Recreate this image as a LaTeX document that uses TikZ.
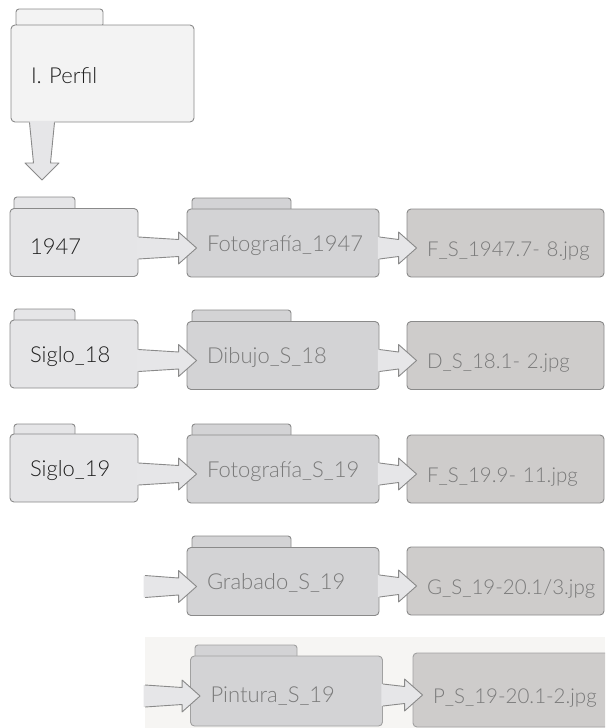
\documentclass[tikz,border=0pt]{standalone}
\usepackage{fontspec}
\setmainfont{Lato Light}
\usepackage{xcolor}
\usepackage{tikz}
\usetikzlibrary{
    calc
}

\definecolor{linegray}{HTML}{8A8A8A}
\definecolor{perfilfill}{HTML}{F3F3F3}
\definecolor{leftfill}{HTML}{E5E5E7}
\definecolor{midfill}{HTML}{D3D3D5}
\definecolor{rightfill}{HTML}{CECCCB}
\definecolor{arrowfill}{HTML}{E6E6E8}
\definecolor{textgray}{HTML}{7A7A7A}
\definecolor{bgfive}{HTML}{F6F5F3}

% fat arrow from #1 (a node anchor or coordinate) to node #2
\newcommand{\fatarrow}[2]{%
    \fill[arrowfill] let \p1=(#1), \p2=($(#2.west)+(10,5)$) in
        ({\x1-1.5pt},{\y2-11pt}) -- ({\x2-18pt},{\y2-8.5pt}) -- ({\x2-18pt},{\y2-16pt}) -- (\x2,\y2)
        -- ({\x2-18pt},{\y2+16pt}) -- ({\x2-18pt},{\y2+8.5pt}) -- ({\x1-1.5pt},{\y2+11pt}) -- cycle;
    \draw[linegray, line width=0.9pt, line join=round] let \p1=(#1), \p2=($(#2.west)+(10,5)$) in
        (\x1,{\y2-11pt}) -- ({\x2-18pt},{\y2-8.5pt}) -- ({\x2-18pt},{\y2-16pt}) -- (\x2,\y2)
        -- ({\x2-18pt},{\y2+16pt}) -- ({\x2-18pt},{\y2+8.5pt}) -- (\x1,{\y2+11pt});
}

\begin{document}
\begin{tikzpicture}[x=1pt,y=-1pt,line width=0.9pt]
    \tikzstyle{every node}=[font=\fontsize{22}{26}\selectfont]
    \tikzstyle{folder}=[draw=linegray, rounded corners=4pt, minimum height=68pt, inner xsep=20pt, inner ysep=0pt, align=left,
        text height=16pt, text depth=0pt, execute at begin node=\hbox\bgroup, execute at end node=\egroup]
    \tikzstyle{tab}=[draw=linegray, rounded corners=3pt, minimum height=18pt, inner sep=0pt]
    \tikzstyle{leftfolder}=[folder, fill=leftfill, text=black!88, text width=88pt]
    \tikzstyle{midfolder}=[folder, fill=midfill, text=textgray, text width=152pt]
    \tikzstyle{filebox}=[folder, fill=rightfill, text=textgray, text width=157pt, text height=26pt,
        font=\fontsize{20.5}{24}\selectfont]

    \useasboundingbox (0,0) rectangle (605,728);
    \clip (0,0) rectangle (605,728);
    \fill[bgfive] (145,637) rectangle (605,728);

    % profile
    \node[tab, fill=perfilfill, minimum width=87pt] (perfiltab) at (59.5,18) {};
    \node[folder, fill=perfilfill, text=black!88, minimum height=97pt, text width=143pt, text height=20pt] (perfil) at (102.5,73.5) {I. Perfil};
    \coordinate (perfiltip) at (42,180);

    % tabs
    \node[tab, fill=leftfill, minimum width=61pt] (y1947tab) at (44.5,206) {};
    \node[tab, fill=leftfill, minimum width=61pt] (s18tab) at (44.5,318) {};
    \node[tab, fill=leftfill, minimum width=61pt] (s19tab) at (44.5,433) {};
    \node[tab, fill=midfill, minimum width=99pt] (fot1947tab) at (241.5,207) {};
    \node[tab, fill=midfill, minimum width=99pt] (dib18tab) at (241.5,319) {};
    \node[tab, fill=midfill, minimum width=99pt] (fot19tab) at (241.5,433) {};
    \node[tab, fill=midfill, minimum width=99pt] (grab19tab) at (241.5,545) {};
    \node[tab, fill=midfill, draw=linegray!80, minimum width=102pt] (pint19tab) at (246,654) {};

    % folders
    \node[leftfolder, text height=24pt] (y1947) at (74,242.5) {1947};
    \node[leftfolder] (s18) at (74,354) {Siglo\_18};
    \node[leftfolder] (s19) at (74,468) {Siglo\_19};
    \node[midfolder] (fot1947) at (283,243) {Fotograf\'ia\_1947};
    \node[midfolder] (dib18) at (283,355.5) {Dibujo\_S\_18};
    \node[midfolder] (fot19) at (283,469) {Fotograf\'ia\_S\_19};
    \node[midfolder] (grab19) at (283,581.5) {Grabado\_S\_19};
    \node[midfolder, draw=linegray!80, minimum height=70pt, text height=22pt] (pint19) at (286.5,691) {Pintura\_S\_19};

    % files
    \node[filebox] (f1947) at (505.5,243) {F\_S\_1947.7- 8.jpg};
    \node[filebox] (d18) at (505.5,355.5) {D\_S\_18.1- 2.jpg};
    \node[filebox] (f19) at (505.5,469) {F\_S\_19.9- 11.jpg};
    \node[filebox] (g19) at (505.5,581) {G\_S\_19-20.1/3.jpg};
    \node[filebox, draw=linegray!80, minimum height=74pt] (p19) at (511.5,690) {P\_S\_19-20.1-2.jpg};

    \coordinate (grab19in) at (145,581);
    \coordinate (pint19in) at (145,690);

    % arrows
    \fill[arrowfill] let \p1=(perfil.south), \p2=(perfiltip) in
        ({\x2-12.5pt},{\y1+1.5pt}) -- ({\x2-8.5pt},{\y2+17pt}) -- ({\x2-17pt},{\y2+17pt}) -- (\x2,\y2)
        -- ({\x2+17pt},{\y2+17pt}) -- ({\x2+8.5pt},{\y2+17pt}) -- ({\x2+12.5pt},{\y1+1.5pt}) -- cycle;
    \draw[linegray, line join=round] let \p1=(perfil.south), \p2=(perfiltip) in
        ({\x2-12.5pt},\y1) -- ({\x2-8.5pt},{\y2+17pt}) -- ({\x2-17pt},{\y2+17pt}) -- (\x2,\y2)
        -- ({\x2+17pt},{\y2+17pt}) -- ({\x2+8.5pt},{\y2+17pt}) -- ({\x2+12.5pt},\y1);
    \fatarrow{y1947.east}{fot1947}
    \fatarrow{fot1947.east}{f1947}
    \fatarrow{s18.east}{dib18}
    \fatarrow{dib18.east}{d18}
    \fatarrow{s19.east}{fot19}
    \fatarrow{fot19.east}{f19}
    \fatarrow{grab19in}{grab19}
    \fatarrow{grab19.east}{g19}
    \fatarrow{pint19in}{pint19}
    \fatarrow{pint19.east}{p19}
\end{tikzpicture}
\end{document}
